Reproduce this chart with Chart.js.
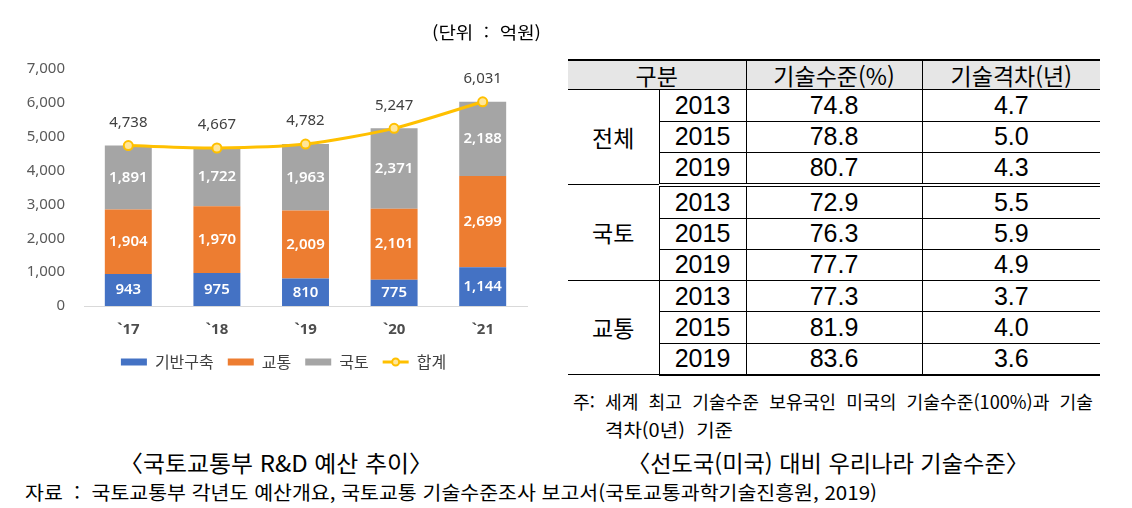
<!DOCTYPE html>
<html lang="ko">
<head>
<meta charset="utf-8">
<script src="https://cdn.jsdelivr.net/npm/chart.js@4.4.0/dist/chart.umd.min.js"></script>
<style>
body{margin:0;width:1132px;height:508px;background:#fff;position:relative;overflow:hidden;font-family:"Noto Sans CJK KR","Noto Sans",sans-serif;color:#000}
.t{position:absolute;white-space:nowrap;transform-origin:0 50%}
#c{position:absolute;left:0;top:0}
table{position:absolute;left:568px;top:59px;width:532px;border-collapse:collapse;table-layout:fixed}
th{background:#e6e6e6;height:28px;font-weight:normal;font-size:23px;line-height:28px;border-top:2px solid #000;border-bottom:1px solid #000;padding:0;text-align:center}
td{height:30.1px;padding:0;text-align:center;font-family:"Liberation Sans",Arial,sans-serif;font-size:25px;line-height:29px}
tr.top td{height:30.7px}
td.grp{font-family:"Noto Sans CJK KR",sans-serif;font-size:23px}
.vl{border-left:1px solid #000}
tr.in td{border-bottom:1px solid #000}
tr.dbl td, td.g0{border-bottom:4px double #000}
tr.sgl td, td.g1{border-bottom:1px solid #000}
tr.end td, td.g2{border-bottom:2px solid #000}
</style>
</head>
<body>
<canvas id="c" width="560" height="390"></canvas>
<div class="t" data-w="109" style="left:432px;top:20px;font-size:17px;line-height:24px">(단위&nbsp; :&nbsp; 억원)</div>
<table id="tbl"></table>
<div class="t" data-w="520" style="left:573px;top:388px;font-size:18px;line-height:26px">주:&nbsp; 세계&nbsp; 최고&nbsp; 기술수준&nbsp; 보유국인&nbsp; 미국의&nbsp; 기술수준(100%)과&nbsp; 기술</div>
<div class="t" data-w="128" style="left:605px;top:416px;font-size:18px;line-height:26px">격차(0년)&nbsp; 기준</div>
<div class="t" data-w="314" style="left:119px;top:447px;font-size:23px;line-height:30px">〈국토교통부 R&amp;D 예산 추이〉</div>
<div class="t" data-w="402" style="left:627px;top:447px;font-size:23px;line-height:30px">〈선도국(미국) 대비 우리나라 기술수준〉</div>
<div class="t" data-w="852" style="left:25px;top:479px;font-size:19px;line-height:26px">자료&nbsp; :&nbsp; 국토교통부 각년도 예산개요, 국토교통 기술수준조사 보고서(국토교통과학기술진흥원, 2019)</div>
<script>
// chart data
const years = ['`17', '`18', '`19', '`20', '`21'];
const infra = [943, 975, 810, 775, 1144];
const traffic = [1904, 1970, 2009, 2101, 2699];
const land = [1891, 1722, 1963, 2371, 2188];
const total = [4738, 4667, 4782, 5247, 6031];

// table data
const groups = ['전체', '국토', '교통'];
const surveyYears = ['2013', '2015', '2019'];
const techLevel = [[74.8, 78.8, 80.7], [72.9, 76.3, 77.7], [77.3, 81.9, 83.6]];
const techGap = [[4.7, 5.0, 4.3], [5.5, 5.9, 4.9], [3.7, 4.0, 3.6]];

let html = '<colgroup><col style="width:91px"><col style="width:87px"><col style="width:176px"><col style="width:178px"></colgroup>';
html += '<tr><th colspan="2">구분</th><th class="vl">기술수준(%)</th><th class="vl">기술격차(년)</th></tr>';
const ends = ['dbl', 'sgl', 'end'];
groups.forEach((g, gi) => {
  surveyYears.forEach((y, yi) => {
    html += '<tr class="' + (yi == 2 ? ends[gi] : 'in') + (yi == 0 ? ' top' : '') + '">';
    if (yi == 0) html += '<td rowspan="3" class="grp g' + gi + '">' + g + '</td>';
    html += '<td class="vl">' + y + '</td><td class="vl">' + techLevel[gi][yi].toFixed(1) +
      '</td><td class="vl">' + techGap[gi][yi].toFixed(1) + '</td></tr>';
  });
});
document.getElementById('tbl').innerHTML = html;

// squeeze texts to the widths in the picture
function fit() {
  document.querySelectorAll('[data-w]').forEach(el => {
    el.style.transform = 'none';
    const w = el.getBoundingClientRect().width;
    el.style.transform = 'scaleX(' + (el.dataset.w / w) + ')';
  });
}
fit();
document.fonts.ready.then(fit);

const fmt = v => v.toLocaleString('en-US');

const valueLabels = {
  id: 'valueLabels',
  afterLayout(chart) {
    // legend is centred a bit right of the canvas centre in the picture
    chart.legend.left = 40;
  },
  afterDatasetsDraw(chart) {
    const ctx = chart.ctx;
    ctx.save();
    ctx.textAlign = 'center';
    ctx.textBaseline = 'middle';
    chart.data.datasets.forEach((ds, i) => {
      const meta = chart.getDatasetMeta(i);
      meta.data.forEach((el, j) => {
        if (ds.type === 'line') {
          ctx.fillStyle = '#404040';
          ctx.font = '15px "Noto Sans"';
          ctx.fillText(fmt(ds.data[j]), el.x, el.y - 23);
        } else {
          ctx.fillStyle = '#ffffff';
          ctx.font = '600 15px "Noto Sans"';
          ctx.fillText(fmt(ds.data[j]), el.x, (el.y + el.base) / 2);
        }
      });
    });
    ctx.restore();
  },
  afterDraw(chart) {
    // line+marker sample for the 합계 legend entry
    const i = chart.data.datasets.findIndex(d => d.type === 'line');
    const hb = chart.legend.legendHitBoxes[i];
    if (!hb) return;
    const ctx = chart.ctx;
    const cy = hb.top + hb.height / 2;
    ctx.save();
    ctx.strokeStyle = '#FFC000';
    ctx.lineWidth = 3;
    ctx.beginPath();
    ctx.moveTo(hb.left, cy);
    ctx.lineTo(hb.left + 26, cy);
    ctx.stroke();
    ctx.beginPath();
    ctx.arc(hb.left + 13, cy, 3.5, 0, Math.PI * 2);
    ctx.fillStyle = '#FFE699';
    ctx.fill();
    ctx.lineWidth = 2;
    ctx.stroke();
    ctx.restore();
  }
};

new Chart(document.getElementById('c'), {
  data: {
    labels: years,
    datasets: [
      {type: 'bar', label: '기반구축', data: infra, backgroundColor: '#4472C4', order: 1},
      {type: 'bar', label: '교통', data: traffic, backgroundColor: '#ED7D31', order: 1},
      {type: 'bar', label: '국토', data: land, backgroundColor: '#A5A5A5', order: 1},
      {type: 'line', label: '합계', data: total, borderColor: '#FFC000', borderWidth: 3,
        pointRadius: 4.5, pointBackgroundColor: '#FFE699', pointBorderColor: '#FFC000',
        pointBorderWidth: 2, tension: 0.25, order: 0}
    ]
  },
  options: {
    responsive: false,
    devicePixelRatio: 1,
    animation: false,
    datasets: {bar: {barPercentage: 0.53, categoryPercentage: 1}},
    layout: {padding: {left: 0, right: 33, top: 69, bottom: 10}},
    scales: {
      x: {
        stacked: true,
        grid: {display: false, drawTicks: false},
        border: {display: true, color: '#d9d9d9', width: 1},
        ticks: {padding: 15, color: '#4d4d4d', font: {size: 15, weight: 'bold', family: 'Noto Sans'}},
        afterFit(s) { s.height = 34; }
      },
      y: {
        stacked: true,
        min: 0,
        max: 7000,
        grid: {display: false, drawTicks: false},
        border: {display: false},
        ticks: {stepSize: 1000, padding: 19, color: '#595959', font: {size: 15, family: 'Noto Sans'},
          callback: v => fmt(v)},
        afterFit(s) { s.width = 84; }
      }
    },
    plugins: {
      tooltip: {enabled: false},
      legend: {
        position: 'bottom',
        labels: {
          boxWidth: 26, boxHeight: 7, padding: 14, color: '#404040',
          font: {size: 16, family: 'Noto Sans CJK KR'},
          generateLabels(chart) {
            const items = Chart.defaults.plugins.legend.labels.generateLabels(chart);
            items.sort((a, b) => a.datasetIndex - b.datasetIndex);
            items.forEach(it => {
              it.lineWidth = 0;
              if (chart.data.datasets[it.datasetIndex].type === 'line') {
                it.fillStyle = 'rgba(0,0,0,0)';
                it.strokeStyle = 'rgba(0,0,0,0)';
              }
            });
            return items;
          }
        }
      }
    }
  },
  plugins: [valueLabels]
});
</script>
</body>
</html>
